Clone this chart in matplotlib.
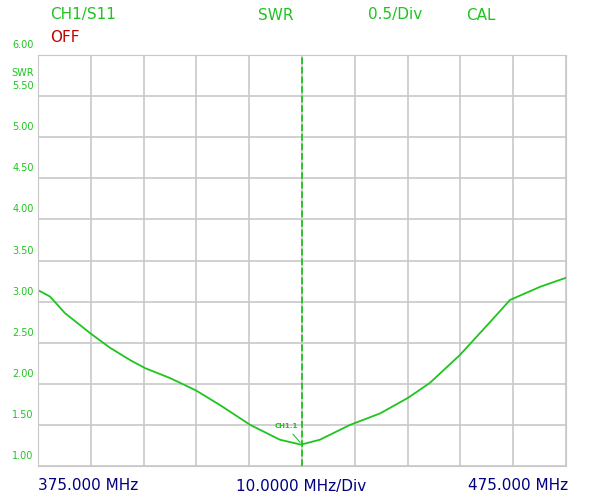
import matplotlib
matplotlib.use('Agg')
from matplotlib import pyplot as plt
import numpy as np

# SWR sweep
freq = [375, 377.3, 380.1, 384.8, 388.6, 392.4, 395.3, 400, 404.9, 409.5, 415.2, 420.8,
        424.8, 428.4, 434.1, 439.8, 445.1, 449.2, 454.9, 460.6, 464.4, 470.1, 475]
swr = [3.14, 3.06, 2.86, 2.62, 2.44, 2.29, 2.19, 2.07, 1.92, 1.74, 1.50, 1.32,
       1.26, 1.32, 1.50, 1.64, 1.83, 2.01, 2.35, 2.75, 3.02, 3.18, 3.29]
ytick_vals = [1.0, 1.5, 2.0, 2.5, 3.0, 3.5, 4.0, 4.5, 5.0, 5.5, 6.0]

green = '#1fc41f'
fig = plt.figure(figsize=(6, 5), dpi=100)
ax = fig.add_axes([38/600, 34/500, 528/600, 411/500])
ax.plot(freq, swr, color=green, lw=1.3)
ax.set_xlim(375, 475)
ax.set_ylim(1, 6)
ax.set_xticks(np.arange(375, 476, 10))
ax.set_yticks(ytick_vals)
ax.grid(color='#c8c8c8', lw=1.2)
ax.tick_params(length=0, labelbottom=False, labelleft=False)
for s in ax.spines.values():
    s.set_color('#c8c8c8')
ax.axvline(425, color=green, ls='--', lw=1.3)

for v in ytick_vals:
    ax.text(-0.008, (v - 1) / 5 + 0.012, '%.2f' % v, transform=ax.transAxes,
            ha='right', va='bottom', fontsize=7, color=green)
ax.text(-0.008, 0.945, 'SWR', transform=ax.transAxes, ha='right', va='bottom',
        fontsize=7, color=green)

ax.annotate('CH1.1', xy=(425, 1.26), xytext=(422, 1.46), fontsize=5, color=green,
            fontweight='bold', ha='center',
            arrowprops=dict(arrowstyle='-', color=green, lw=0.8))

fig.text(50/600, 1 - 15/500, 'CH1/S11', color=green, fontsize=11, va='center')
fig.text(50/600, 1 - 38/500, 'OFF', color='#c00000', fontsize=11, va='center')
fig.text(258/600, 1 - 15/500, 'SWR', color=green, fontsize=11, va='center')
fig.text(368/600, 1 - 15/500, '0.5/Div', color=green, fontsize=11, va='center')
fig.text(466/600, 1 - 15/500, 'CAL', color=green, fontsize=11, va='center')

navy = '#000080'
fig.text(38/600, 1 - 486/500, '375.000 MHz', color=navy, fontsize=11, va='center')
fig.text(301/600, 1 - 486/500, '10.0000 MHz/Div', color=navy, fontsize=11, va='center', ha='center')
fig.text(568/600, 1 - 486/500, '475.000 MHz', color=navy, fontsize=11, va='center', ha='right')

plt.savefig('out.png', dpi=100)
